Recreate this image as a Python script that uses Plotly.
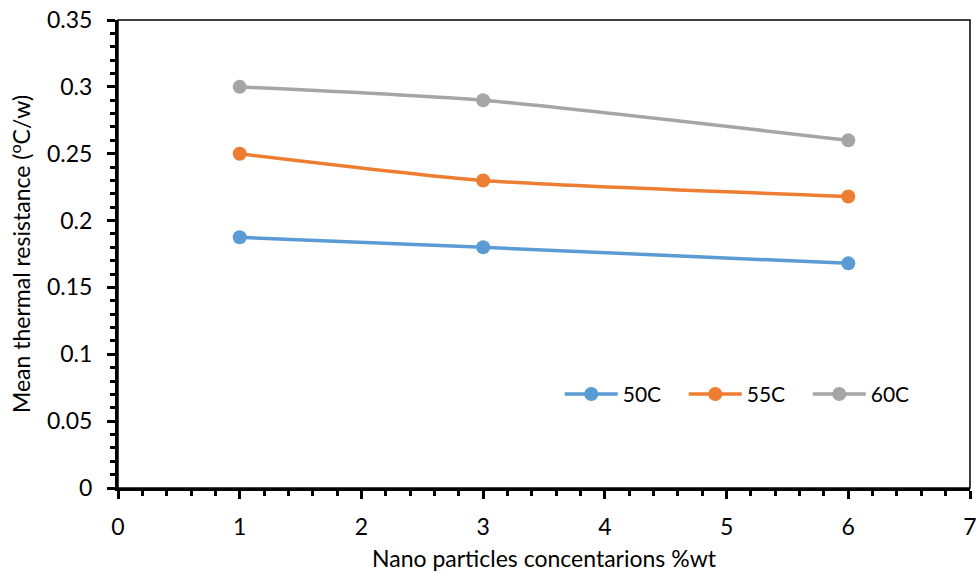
import plotly.graph_objects as go

concentration = [1, 3, 6]
series_names = ["50C", "55C", "60C"]
r_50 = [0.1875, 0.180, 0.168]
r_55 = [0.250, 0.230, 0.218]
r_60 = [0.300, 0.290, 0.260]
colors = ["#5B9BD5", "#ED7D31", "#A5A5A5"]
x_ticks = [0, 1, 2, 3, 4, 5, 6, 7]
y_ticks = [0, 0.05, 0.1, 0.15, 0.2, 0.25, 0.3, 0.35]
y_tick_text = ["0", "0.05", "0.1", "0.15", "0.2", "0.25", "0.3", "0.35"]

FONT = "Lato"
fig = go.Figure()
for name, vals, c in zip(series_names, [r_50, r_55, r_60], colors):
    fig.add_trace(go.Scatter(
        x=concentration, y=vals, name=name, mode="lines+markers",
        line=dict(color=c, width=3.5, shape="spline", smoothing=0.6),
        marker=dict(color=c, size=14),
    ))

fig.update_layout(
    width=976, height=574,
    margin=dict(l=118, r=6, t=20, b=86),
    paper_bgcolor="white", plot_bgcolor="white",
    font=dict(family=FONT, color="black", size=20),
    showlegend=True,
    legend=dict(orientation="h", x=0.5185, y=0.2, xanchor="left", yanchor="middle",
                font=dict(size=21, family=FONT), bgcolor="rgba(0,0,0,0)",
                itemwidth=53, entrywidth=56, entrywidthmode="pixels", tracegroupgap=0),
    xaxis=dict(range=[0, 7], tickvals=x_ticks, showgrid=False, zeroline=False,
               showline=True, linecolor="black", linewidth=3, automargin=False,
               ticks="outside", ticklen=8, tickwidth=3, tickcolor="black",
               minor=dict(dtick=0.2, ticks="outside", ticklen=5, tickwidth=3, tickcolor="black"),
               tickfont=dict(size=23, family=FONT), ticklabelstandoff=8,
               ticklabeloverflow="allow",
               title=dict(text="Nano particles concentarions %wt", font=dict(size=23, family=FONT), standoff=13)),
    yaxis=dict(range=[0, 0.35], tickvals=y_ticks, ticktext=y_tick_text, showgrid=False, zeroline=False,
               showline=True, linecolor="black", linewidth=3, automargin=False,
               ticks="outside", ticklen=8, tickwidth=3, tickcolor="black",
               minor=dict(dtick=0.01, ticks="outside", ticklen=5, tickwidth=3, tickcolor="black"),
               tickfont=dict(size=23, family=FONT), ticklabelstandoff=10,
               title=dict(text="Mean thermal resistance (<sup>o</sup>C/w)", font=dict(size=23, family=FONT), standoff=10)),
    shapes=[dict(type="rect", xref="paper", yref="paper", x0=0, y0=0, x1=1, y1=1,
                 line=dict(color="black", width=1.5), layer="above")],
)

fig.write_html("out.html")
